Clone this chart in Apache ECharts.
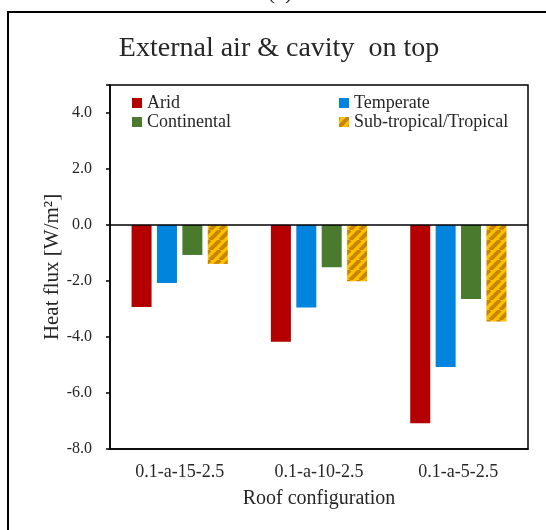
<!DOCTYPE html>
<html>
<head>
<meta charset="utf-8">
<script src="https://cdn.jsdelivr.net/npm/echarts@6/dist/echarts.min.js"></script>
<style>
	html, body { margin: 0; padding: 0; background: #fff; }
	#chart { width: 546px; height: 530px; }
</style>
</head>
<body>
<div id="chart"></div>
<script>
	// data
	var categories = ['0.1-a-15-2.5', '0.1-a-10-2.5', '0.1-a-5-2.5'];
	var arid = [-2.93, -4.17, -7.08];
	var temperate = [-2.07, -2.95, -5.07];
	var continental = [-1.07, -1.51, -2.64];
	var subtropical = [-1.39, -2.01, -3.45];
	var yTicks = [-8, -6, -4, -2, 0, 2, 4];

	var font = 'Liberation Serif';
	var textColor = '#262626';

	// hatch for the sub-tropical bars
	var canvas = document.createElement('canvas');
	canvas.width = canvas.height = 10;
	var ctx = canvas.getContext('2d');
	ctx.fillStyle = '#FFC000';
	ctx.fillRect(0, 0, 10, 10);
	ctx.strokeStyle = '#C68700';
	ctx.lineWidth = 4;
	for (var k = -10; k <= 10; k += 10) {
		ctx.beginPath();
		ctx.moveTo(k, 10);
		ctx.lineTo(k + 10, 0);
		ctx.stroke();
	}

	var myChart = echarts.init(document.getElementById('chart'));

	var legendText = { fontFamily: font, fontSize: 18, color: textColor, lineHeight: 18 };

	var option = {
		animation: false,
		backgroundColor: '#fff',
		title: {
			text: 'External air & cavity  on top',
			left: 274,
			top: 30,
			textAlign: 'center',
			textStyle: { fontFamily: font, fontSize: 28, fontWeight: 'normal', color: textColor }
		},
		graphic: [{
			type: 'rect',
			shape: { x: 8, y: 12, width: 600, height: 600 },
			style: { fill: 'none', stroke: '#000', lineWidth: 2 }
		}, {
			type: 'text',
			x: 280, y: 4,
			style: { text: '(c)', fontFamily: font, fontSize: 22, fill: textColor, align: 'center', verticalAlign: 'bottom' }
		}],
		legend: [{
			orient: 'vertical',
			left: 132,
			top: 94,
			padding: 0,
			icon: 'rect',
			itemWidth: 10,
			itemHeight: 10,
			itemGap: 1,
			textStyle: legendText,
			data: ['Arid', 'Continental']
		}, {
			orient: 'vertical',
			left: 339,
			top: 94,
			padding: 0,
			icon: 'rect',
			itemWidth: 10,
			itemHeight: 10,
			itemGap: 1,
			textStyle: legendText,
			data: ['Temperate', 'Sub-tropical/Tropical']
		}],
		grid: {
			left: 110,
			right: 18,
			top: 85,
			bottom: 81,
			show: true,
			borderColor: '#000',
			borderWidth: 1.5,
			containLabel: false
		},
		xAxis: {
			type: 'category',
			data: categories,
			name: 'Roof configuration',
			nameLocation: 'middle',
			nameGap: 40,
			nameMoveOverlap: false,
			nameTextStyle: { fontFamily: font, fontSize: 20, color: textColor },
			axisLine: { onZero: false, lineStyle: { color: '#000', width: 1.5 } },
			axisTick: { show: false },
			axisLabel: { fontFamily: font, fontSize: 18, color: textColor, margin: 14 }
		},
		yAxis: {
			type: 'value',
			min: -8,
			max: 5,
			interval: 2,
			name: 'Heat flux [W/m²]',
			nameLocation: 'middle',
			nameGap: 47,
			nameMoveOverlap: false,
			nameTextStyle: { fontFamily: font, fontSize: 21, color: textColor },
			axisLine: { show: true, lineStyle: { color: '#000', width: 1.5 } },
			axisTick: { show: true, length: 4, lineStyle: { color: '#000', width: 1.5 } },
			splitLine: { show: false },
			axisLabel: {
				fontFamily: font, fontSize: 16, color: textColor, margin: 18,
				formatter: function (v) {
					return yTicks.indexOf(v) >= 0 ? v.toFixed(1) : '';
				}
			}
		},
		series: [{
			name: 'Arid',
			type: 'bar',
			barWidth: 20,
			barGap: '27%',
			itemStyle: { color: '#B40000' },
			data: arid,
			markLine: {
				silent: true,
				symbol: 'none',
				label: { show: false },
				lineStyle: { color: '#000', width: 1.5, type: 'solid' },
				data: [{ yAxis: 0 }]
			}
		}, {
			name: 'Temperate',
			type: 'bar',
			barWidth: 20,
			barGap: '27%',
			itemStyle: { color: '#0084DE' },
			data: temperate
		}, {
			name: 'Continental',
			type: 'bar',
			barWidth: 20,
			barGap: '27%',
			itemStyle: { color: '#4A7A2E' },
			data: continental
		}, {
			name: 'Sub-tropical/Tropical',
			type: 'bar',
			barWidth: 20,
			barGap: '27%',
			itemStyle: { color: { image: canvas, repeat: 'repeat' } },
			data: subtropical
		}]
	};
	myChart.setOption(option);
</script>
</body>
</html>
